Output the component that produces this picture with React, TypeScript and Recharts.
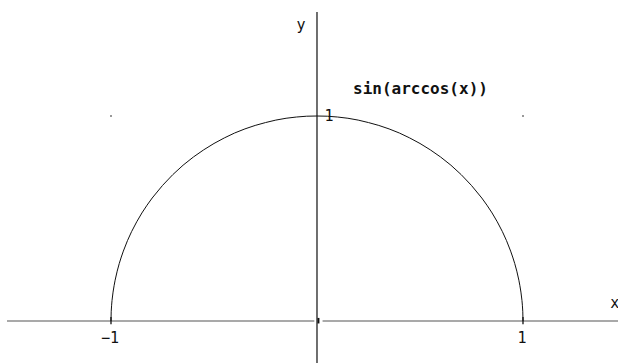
import React from "react";
import { LineChart, Line, XAxis, YAxis, ReferenceLine, ReferenceDot } from "recharts";

// x values along the curve and the matching heights
const xs = [-1, -0.999, -0.997, -0.995, -0.99, -0.985, -0.98, -0.97, -0.96, -0.95, -0.94, -0.92, -0.9, -0.875, -0.85, -0.825, -0.8, -0.75, -0.7, -0.65, -0.6, -0.55, -0.5, -0.45, -0.4, -0.35, -0.3, -0.25, -0.2, -0.15, -0.1, -0.05, 0,
  0.05, 0.1, 0.15, 0.2, 0.25, 0.3, 0.35, 0.4, 0.45, 0.5, 0.55, 0.6, 0.65, 0.7, 0.75, 0.8, 0.825, 0.85, 0.875, 0.9, 0.92, 0.94, 0.95, 0.96, 0.97, 0.98, 0.985, 0.99, 0.995, 0.997, 0.999, 1];
const ys = [0, 0.045, 0.077, 0.1, 0.141, 0.172, 0.199, 0.243, 0.28, 0.312, 0.341, 0.392, 0.436, 0.484, 0.527, 0.565, 0.6, 0.661, 0.714, 0.76, 0.8, 0.835, 0.866, 0.893, 0.917, 0.937, 0.954, 0.968, 0.98, 0.989, 0.995, 0.999, 1,
  0.999, 0.995, 0.989, 0.98, 0.968, 0.954, 0.937, 0.917, 0.893, 0.866, 0.835, 0.8, 0.76, 0.714, 0.661, 0.6, 0.565, 0.527, 0.484, 0.436, 0.392, 0.341, 0.312, 0.28, 0.243, 0.199, 0.172, 0.141, 0.1, 0.077, 0.045, 0];

const xTickLabels = ["−1", "1"];
const xTickValues = [-1, 1];
const yTickLabel = "1";
const title = "sin(arccos(x))";

const data = xs.map((x, i) => ({ x, y: ys[i] }));

const X_DOMAIN: [number, number] = [-1.5388, 1.4612];
const Y_DOMAIN: [number, number] = [-0.2049, 1.5659];
const FONT = "DejaVu Sans Mono";

export default function App() {
  return (
    <div style={{ position: "absolute", left: 0, top: 0, background: "#fff" }}>
      <LineChart width={618} height={363} data={data} margin={{ top: 0, right: 0, bottom: 0, left: 0 }}>
        <XAxis type="number" dataKey="x" domain={X_DOMAIN} allowDataOverflow hide />
        <YAxis type="number" domain={Y_DOMAIN} allowDataOverflow hide />
        <ReferenceLine
          segment={[{ x: -1.505, y: 0 }, { x: -0.013, y: 0 }]}
          stroke="#555"
          strokeWidth={1.2}
          ifOverflow="visible"
        />
        <ReferenceLine
          segment={[{ x: 0.027, y: 0 }, { x: 1.4612, y: 0 }]}
          stroke="#555"
          strokeWidth={1.2}
          ifOverflow="visible"
        />
        <ReferenceLine
          segment={[{ x: 0, y: 1.507 }, { x: 0, y: -0.2049 }]}
          stroke="#222"
          strokeWidth={1.3}
          ifOverflow="visible"
        />
        <ReferenceLine
          segment={[{ x: 0.007, y: 0.015 }, { x: 0.007, y: -0.012 }]}
          stroke="#111"
          strokeWidth={2}
          ifOverflow="visible"
        />
        {xTickValues.map((v) => (
          <ReferenceLine
            key={"t" + v}
            segment={[{ x: v, y: 0.02 }, { x: v, y: -0.016 }]}
            stroke="#111"
            strokeWidth={1.3}
            ifOverflow="visible"
          />
        ))}
        <Line
          type="linear"
          dataKey="y"
          stroke="#111"
          strokeWidth={1}
          dot={false}
          activeDot={false}
          isAnimationActive={false}
        />
        <ReferenceDot x={-1} y={1} r={1} fill="#777" stroke="none" />
        <ReferenceDot x={1} y={1} r={1} fill="#777" stroke="none" />
        {xTickValues.map((v, i) => (
          <ReferenceDot
            key={v}
            x={v - 0.005}
            y={-0.083}
            r={0}
            stroke="none"
            label={{ value: xTickLabels[i], position: "center", fill: "#111", fontSize: 15, fontFamily: FONT }}
          />
        ))}
        <ReferenceDot
          x={0.058}
          y={1}
          r={0}
          stroke="none"
          label={{ value: yTickLabel, position: "center", fill: "#111", fontSize: 15, fontFamily: FONT }}
        />
        <ReferenceDot
          x={-0.078}
          y={1.444}
          r={0}
          stroke="none"
          label={{ value: "y", position: "center", fill: "#111", fontSize: 15, fontFamily: FONT }}
        />
        <ReferenceDot
          x={1.424}
          y={0.088}
          r={0}
          stroke="none"
          label={{ value: "x", position: "right", offset: 0, fill: "#111", fontSize: 15, fontFamily: FONT }}
        />
        <ReferenceDot
          x={0.175}
          y={1.137}
          r={0}
          stroke="none"
          label={{ value: title, position: "right", offset: 0, fill: "#111", fontSize: 16, fontWeight: "bold", fontFamily: FONT }}
        />
      </LineChart>
    </div>
  );
}
